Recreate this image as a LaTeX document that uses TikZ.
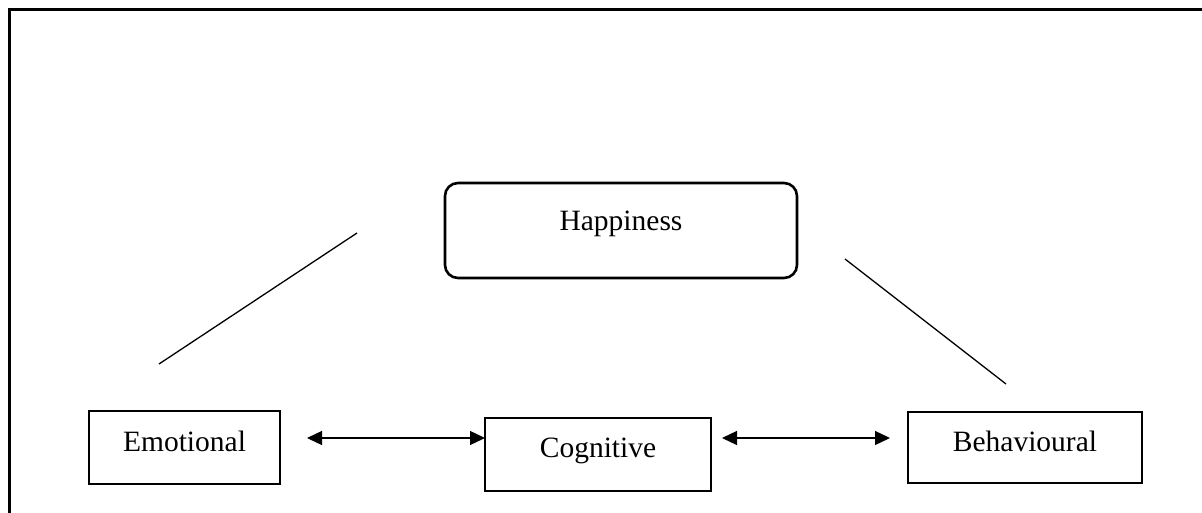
\documentclass[tikz,border=0pt]{standalone}
\usepackage{fontspec}
\setmainfont{Liberation Serif}
\usetikzlibrary{arrows.meta}
\begin{document}
\begin{tikzpicture}[x=1pt,y=-1pt,
  boxnode/.style={draw,line width=2.6pt,inner sep=0pt,text height=20pt,
    font=\fontsize{29.5}{35}\selectfont},
  linkline/.style={line width=1.3pt},
  twoway/.style={line width=1.3pt,{Triangle[length=15pt,width=14pt]}-{Triangle[length=15pt,width=14pt]}}]
\useasboundingbox (0,0) rectangle (1202,513);
\fill[white] (0,0) rectangle (1202,513);
% outer frame (only top and left edges visible)
\draw[line width=3pt] (9,520) -- (9,10) -- (1210,10);
% nodes
\node[boxnode,rounded corners=13pt,minimum width=352pt,minimum height=95pt,text depth=21pt] (hap) at (621,230.5) {Happiness};
\node[boxnode,minimum width=191pt,minimum height=73pt,text depth=13pt] (emo) at (184.5,447.5) {Emotional};
\node[boxnode,minimum width=226pt,minimum height=73pt,text depth=15pt] (cog) at (598,454.5) {Cognitive};
\node[boxnode,minimum width=234pt,minimum height=71pt,text depth=13pt] (beh) at (1025,447.5) {Behavioural};
% free ends
\coordinate (l1a) at (159,364);
\coordinate (l1b) at (357,233);
\coordinate (l2a) at (845,259);
\coordinate (l2b) at (1006,384);
\coordinate (a1a) at (307,438);
\coordinate (a1b) at (485,438);
\coordinate (a2a) at (722,438);
\coordinate (a2b) at (890,438);
% connectors
\draw[linkline] (l1a) -- (l1b);
\draw[linkline] (l2a) -- (l2b);
\draw[twoway] (a1a) -- (a1b);
\draw[twoway] (a2a) -- (a2b);
\end{tikzpicture}
\end{document}
